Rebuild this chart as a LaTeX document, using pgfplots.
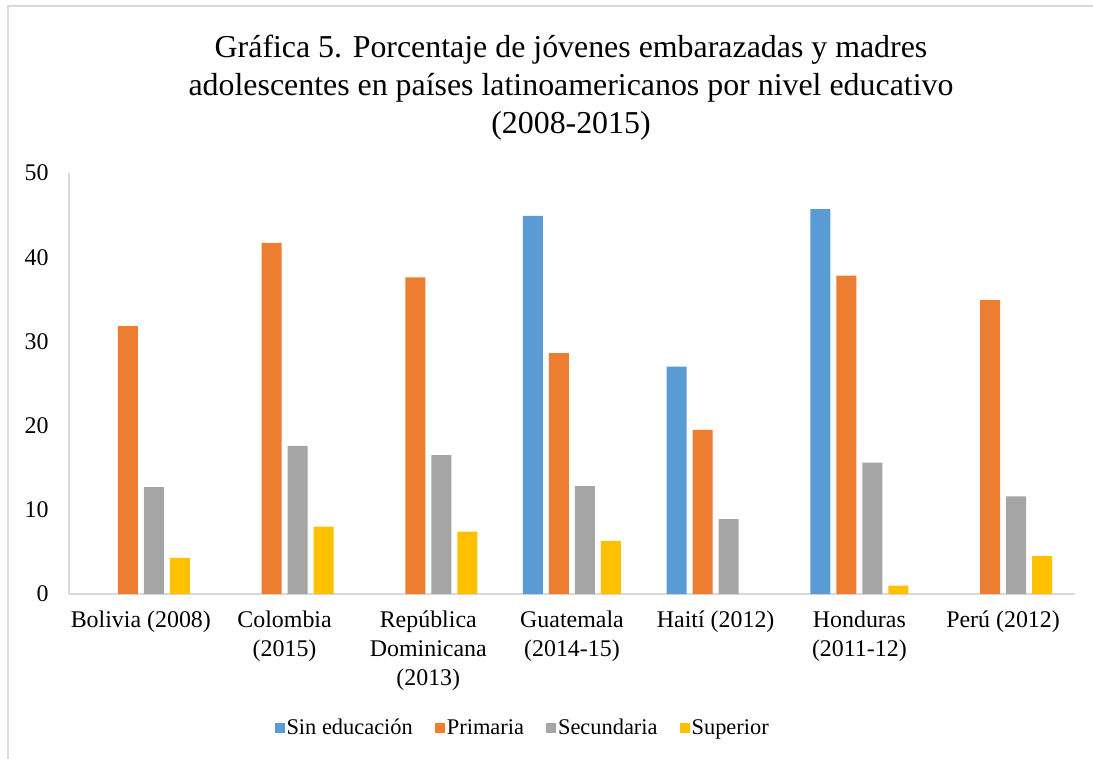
\documentclass[border=0pt]{standalone}
\usepackage{pgfplots}
\pgfplotsset{compat=1.18}
\usepackage{fontspec}
\setmainfont{Liberation Serif}
\definecolor{cBlue}{HTML}{5B9BD5}
\definecolor{cOrange}{HTML}{ED7D31}
\definecolor{cGray}{HTML}{A5A5A5}
\definecolor{cYellow}{HTML}{FFC000}
\definecolor{cAxis}{HTML}{D9D9D9}
\begin{document}
\begin{tikzpicture}
\useasboundingbox (-69bp,-165bp) rectangle (1024bp,594bp);
\draw[cAxis, line width=1.2bp] (-61bp,-165bp) -- (-61bp,588bp) -- (1024bp,588bp);
\begin{axis}[
  scale only axis,
  width=1006bp, height=421bp,
  at={(0,0)}, anchor=south west,
  ybar=6bp, bar width=20bp,
  ymin=0, ymax=50, ytick={0,10,...,50},
  xmin=-0.5, xmax=6.5,
  xtick={0,...,6},
  xticklabels={Bolivia (2008),Colombia\\(2015),República\\Dominicana\\(2013),Guatemala\\(2014-15),Haití (2012),Honduras\\(2011-12),Perú (2012)},
  x tick label style={align=center, font=\fontsize{24}{29.5}\selectfont, yshift=-13bp},
  y tick label style={font=\fontsize{24}{28}\selectfont, xshift=-17bp},
  /pgf/number format/assume math mode=true,
  major tick length=0pt,
  axis x line*=bottom, axis y line*=left,
  axis line style={cAxis, line width=1.5bp},
  every axis plot/.append style={draw=none},
  legend columns=4,
  legend style={draw=none, at={(0.451,-0.318)}, anchor=center,
     font=\fontsize{22.5}{26}\selectfont,
     /tikz/every even column/.append style={column sep=20bp}},
  legend image code/.code={\fill[#1] (0bp,-5bp) rectangle (10bp,5bp);},
]
\addplot[fill=cBlue] coordinates {(3,44.9) (4,27.0) (5,45.7)};
\addplot[fill=cOrange] coordinates {(0,31.8) (1,41.7) (2,37.6) (3,28.6) (4,19.5) (5,37.8) (6,34.9)};
\addplot[fill=cGray] coordinates {(0,12.7) (1,17.6) (2,16.5) (3,12.8) (4,8.9) (5,15.6) (6,11.6)};
\addplot[fill=cYellow] coordinates {(0,4.3) (1,8.0) (2,7.4) (3,6.3) (5,1.0) (6,4.5)};
\legend{Sin educación,Primaria,Secundaria,Superior}
\end{axis}
\node[align=center, font=\fontsize{32}{38}\selectfont] at (502bp,506bp) {Gráfica 5. Porcentaje de jóvenes embarazadas y madres\\adolescentes en países latinoamericanos por nivel educativo\\(2008-2015)};
\end{tikzpicture}
\end{document}
